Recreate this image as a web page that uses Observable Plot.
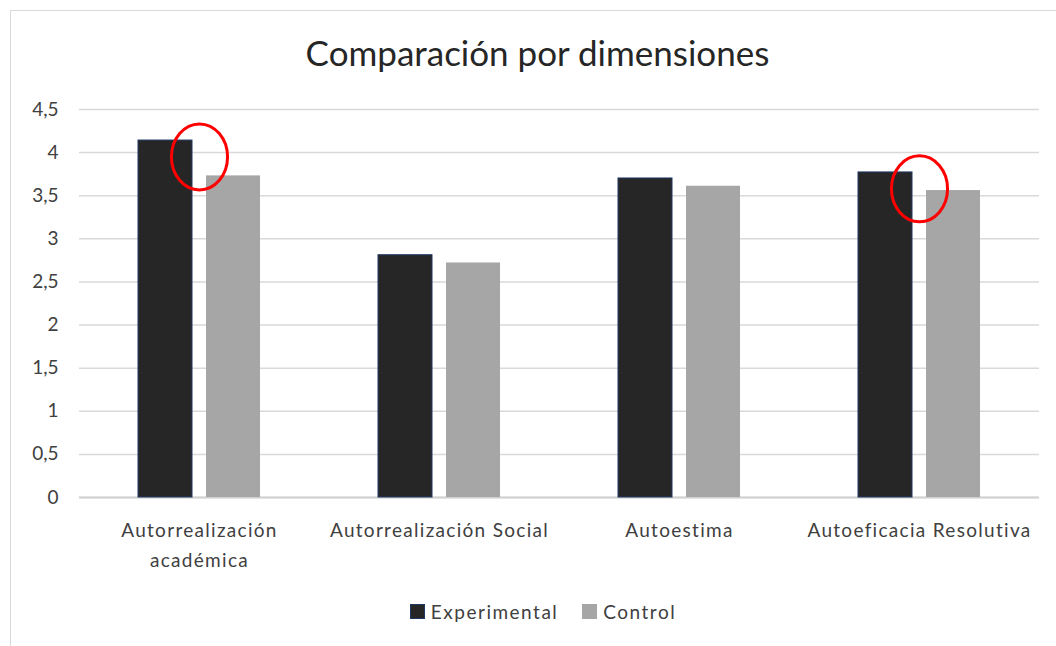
<!DOCTYPE html>
<html>
<head>
<meta charset="utf-8">
<script src="https://cdn.jsdelivr.net/npm/d3@7"></script>
<script src="https://cdn.jsdelivr.net/npm/@observablehq/plot@0.6"></script>
<style>
  body { margin:0; width:1056px; height:646px; overflow:hidden; background:#fff; position:relative; font-family: Lato, "Open Sans", sans-serif; }
  #frame { position:absolute; left:10px; top:10px; width:1100px; height:700px; border:1px solid #d9d9d9; box-sizing:border-box; }
  #title { position:absolute; left:10px; width:1055px; top:31px; text-align:center; font-size:35px; color:#262626; font-weight:400; }
  #chart { position:absolute; left:0; top:80px; }
  #legend { position:absolute; left:15px; width:1056px; top:600px; display:flex; justify-content:center; align-items:center; font-size:19px; color:#404040; letter-spacing:1.5px; }
  #legend .item { display:flex; align-items:center; margin:0 12px; }
  #legend .sw { width:15px; height:15px; margin-right:6px; box-sizing:border-box; }
</style>
</head>
<body>
<div id="frame"></div>
<div id="title">Comparación por dimensiones</div>
<div id="chart"></div>
<div id="legend"></div>
<script>
const categories = ["Autorrealización académica", "Autorrealización Social", "Autoestima", "Autoeficacia Resolutiva"];
const categoryLabels = ["Autorrealización\nacadémica", "Autorrealización Social", "Autoestima", "Autoeficacia Resolutiva"];
const series = ["Experimental", "Control"];
const seriesColors = ["#262626", "#a6a6a6"];
const seriesStrokes = ["#1f3864", "none"];
const experimental = [4.14, 2.81, 3.70, 3.77];
const control = [3.73, 2.72, 3.61, 3.56];
const yTicks = [0, 0.5, 1, 1.5, 2, 2.5, 3, 3.5, 4, 4.5];
const highlightCategories = ["Autorrealización académica", "Autoeficacia Resolutiva"];
const highlightValues = [3.95, 3.58];

const rows = [];
categories.forEach((c, i) => {
  rows.push({category: c, series: series[0], value: experimental[i]});
  rows.push({category: c, series: series[1], value: control[i]});
});
const highlights = highlightCategories.map((c, i) => ({category: c, value: highlightValues[i]}));

const ellipse = {
  draw(ctx, size) {
    const r = Math.sqrt(size / Math.PI);
    const ry = r, rx = r * 0.85, k = 0.5523;
    ctx.moveTo(rx, 0);
    ctx.bezierCurveTo(rx, k * ry, k * rx, ry, 0, ry);
    ctx.bezierCurveTo(-k * rx, ry, -rx, k * ry, -rx, 0);
    ctx.bezierCurveTo(-rx, -k * ry, -k * rx, -ry, 0, -ry);
    ctx.bezierCurveTo(k * rx, -ry, rx, -k * ry, rx, 0);
    ctx.closePath();
  }
};

const fmt = d => String(d).replace(".", ",");
const labelOf = new Map(categories.map((c, i) => [c, categoryLabels[i]]));

const chart = Plot.plot({
  width: 1056,
  height: 500,
  marginTop: 29,
  marginBottom: 83,
  marginLeft: 78,
  marginRight: 17,
  style: {fontFamily: "Lato, 'Open Sans', sans-serif", fontSize: "19px", color: "#404040", background: "transparent"},
  fx: {domain: categories, padding: 0, axis: null},
  x: {domain: series, axis: null, paddingInner: 0.2, paddingOuter: 0.84},
  y: {domain: [0, 4.5], ticks: yTicks, tickSize: 0, tickPadding: 21, tickFormat: fmt, label: null},
  color: {domain: series, range: seriesColors},
  marks: [
    Plot.gridY(yTicks, {stroke: "#d9d9d9", strokeOpacity: 1, strokeWidth: 1.5}),
    Plot.ruleY([0], {stroke: "#d0d0d0", strokeWidth: 2}),
    Plot.barY(rows, {fx: "category", x: "series", y: "value", fill: "series",
      stroke: d => seriesStrokes[series.indexOf(d.series)], strokeWidth: 1}),
    Plot.dot(highlights, {fx: "category", y: "value", r: 33, symbol: ellipse, stroke: "#ff0000", strokeWidth: 3, fill: "none"}),
    Plot.axisFx({anchor: "bottom", label: null, tickSize: 0, tickPadding: 19, tickFormat: c => labelOf.get(c), lineHeight: 1.55})
  ]
});
chart.querySelectorAll('[aria-label="fx-axis tick label"] text').forEach(t => t.setAttribute("letter-spacing", "1.3px"));
document.getElementById("chart").appendChild(chart);

const legend = document.getElementById("legend");
series.forEach((s, i) => {
  const item = document.createElement("div");
  item.className = "item";
  const sw = document.createElement("span");
  sw.className = "sw";
  sw.style.background = seriesColors[i];
  if (seriesStrokes[i] !== "none") sw.style.border = "1px solid " + seriesStrokes[i];
  const t = document.createElement("span");
  t.textContent = s;
  item.appendChild(sw); item.appendChild(t);
  legend.appendChild(item);
});
</script>
</body>
</html>
